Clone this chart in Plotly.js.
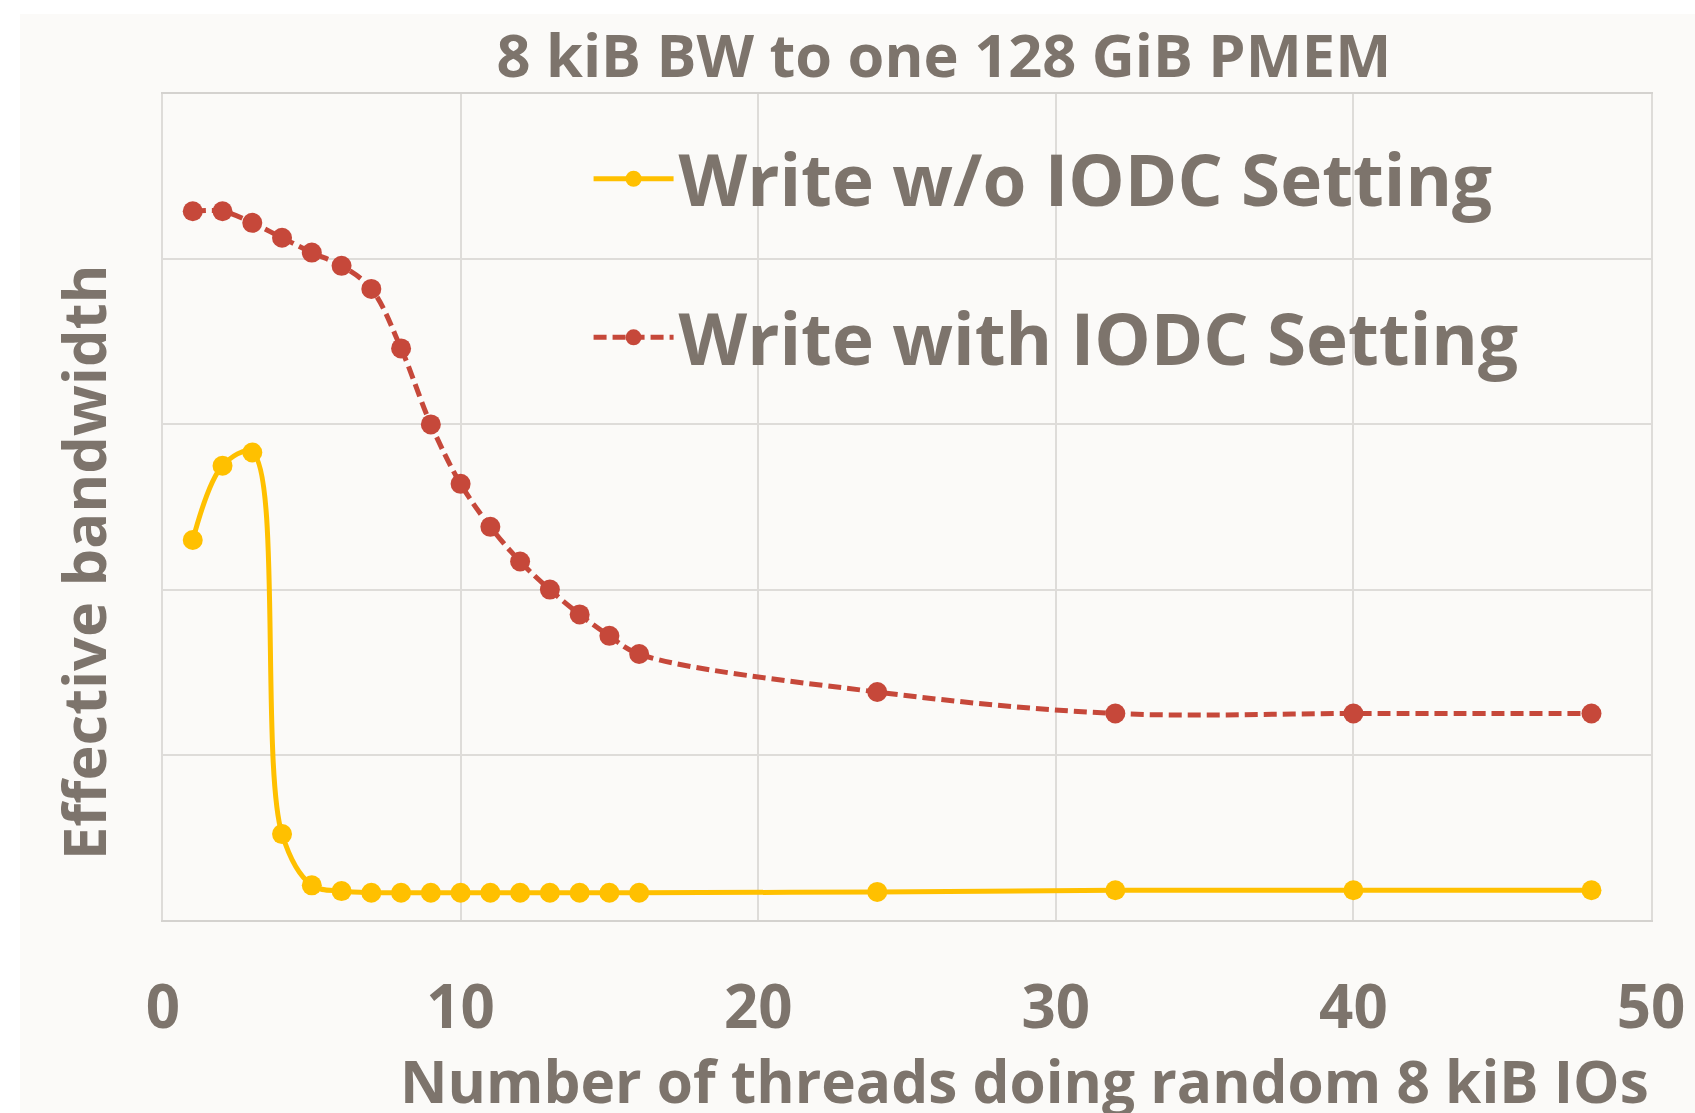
<!DOCTYPE html>
<html>
<head>
<meta charset="utf-8">
<script src="https://cdn.plot.ly/plotly-3.0.1.min.js"></script>
<style>
  body { margin: 0; background: #ffffff; }
  #chart { position: absolute; left: 20px; top: 14px; width: 1675px; height: 1099px; }
</style>
</head>
<body>
<div id="chart"></div>
<script>
// thread counts on the x axis
const threads = [1, 2, 3, 4, 5, 6, 7, 8, 9, 10, 11, 12, 13, 14, 15, 16, 24, 32, 40, 48];

// effective bandwidth (the y axis has no units)
const writeNoIodc = [2.30, 2.75, 2.83, 0.52, 0.21, 0.175, 0.165, 0.165, 0.165, 0.165,
                     0.165, 0.165, 0.165, 0.165, 0.165, 0.165, 0.17, 0.18, 0.18, 0.18];
const writeIodc = [4.29, 4.29, 4.22, 4.13, 4.04, 3.96, 3.82, 3.46, 3.00, 2.64,
                   2.38, 2.17, 2.00, 1.85, 1.72, 1.61, 1.38, 1.25, 1.25, 1.25];

const xTicks = [0, 10, 20, 30, 40, 50];

const textColor = "#7d746c";
const gridColor = "#dedcd9";
const font = "Open Sans, sans-serif";

const traces = [
  {
    x: threads,
    y: writeNoIodc,
    name: "Write w/o IODC Setting",
    type: "scatter",
    mode: "lines+markers",
    line: { color: "#FFC000", width: 5, shape: "spline", smoothing: 1 },
    marker: { color: "#FFC000", size: 20 },
    legend: "legend",
    showlegend: true
  },
  {
    x: threads,
    y: writeIodc,
    name: "Write with IODC Setting",
    type: "scatter",
    mode: "lines+markers",
    line: { color: "#C6483A", width: 5, dash: "13px,6px", shape: "spline", smoothing: 1 },
    marker: { color: "#C6483A", size: 20 },
    legend: "legend2",
    showlegend: true
  }
];

const legendFont = { family: font, size: 71, color: textColor, weight: "bold" };

const layout = {
  width: 1675,
  height: 1099,
  showlegend: true,
  paper_bgcolor: "#fbfaf8",
  plot_bgcolor: "#fbfaf8",
  margin: { l: 143, r: 44, t: 80, b: 193 },
  font: { family: font, color: textColor },
  title: {
    text: "8 kiB BW to one 128 GiB PMEM",
    font: { family: font, size: 59.5, color: textColor, weight: "bold" },
    x: 0.5516, xanchor: "center",
    y: 0.962, yanchor: "middle"
  },
  xaxis: {
    range: [0, 50],
    tickvals: xTicks,
    ticktext: xTicks.map(String),
    tickfont: { family: font, size: 60, color: textColor, weight: "bold" },
    ticks: "",
    ticklabelstandoff: 34,
    showgrid: true,
    gridcolor: gridColor,
    gridwidth: 2,
    showline: true,
    mirror: true,
    linecolor: "#d4d2cf",
    linewidth: 2,
    zeroline: false,
    fixedrange: true
  },
  yaxis: {
    range: [0, 5],
    dtick: 1,
    showticklabels: false,
    ticks: "",
    showgrid: true,
    gridcolor: gridColor,
    gridwidth: 2,
    showline: true,
    mirror: true,
    linecolor: gridColor,
    linewidth: 2,
    zeroline: false,
    fixedrange: true
  },
  legend: {
    x: 0.286, xanchor: "left",
    y: 0.897, yanchor: "middle",
    bgcolor: "rgba(0,0,0,0)",
    itemwidth: 80,
    font: legendFont
  },
  legend2: {
    x: 0.286, xanchor: "left",
    y: 0.705, yanchor: "middle",
    bgcolor: "rgba(0,0,0,0)",
    itemwidth: 80,
    font: legendFont
  },
  annotations: [
    {
      text: "Number of threads doing random 8 kiB IOs",
      xref: "paper", yref: "paper",
      x: 1, xanchor: "right",
      y: -0.194, yanchor: "middle",
      showarrow: false,
      font: { family: font, size: 58.5, color: textColor, weight: "bold" }
    },
    {
      text: "Effective bandwidth",
      xref: "paper", yref: "paper",
      x: -0.054, xanchor: "center",
      y: 0.433, yanchor: "middle",
      textangle: -90,
      showarrow: false,
      font: { family: font, size: 59.5, color: textColor, weight: "bold" }
    }
  ]
};

Plotly.newPlot("chart", traces, layout, { displayModeBar: false, responsive: false });
</script>
</body>
</html>
